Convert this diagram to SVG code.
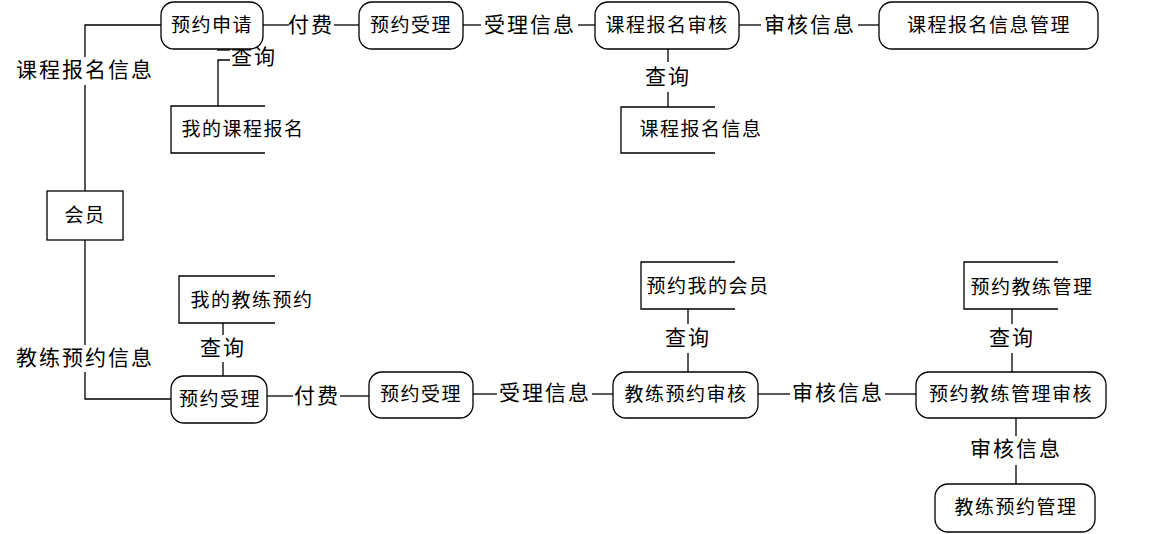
<svg xmlns="http://www.w3.org/2000/svg" width="1157" height="534" viewBox="0 0 1157 534">
<style>
.n{fill:#fff;stroke:#000;stroke-width:1.3}
.o{fill:none;stroke:#000;stroke-width:1.3}
.c{fill:none;stroke:#000;stroke-width:1.3}
text{font-family:"Noto Sans CJK SC","Noto Sans CJK JP",sans-serif;fill:#000;text-anchor:middle;dominant-baseline:central}
.t{font-size:19px;letter-spacing:1.5px}
.l{font-size:21px;letter-spacing:2px}
</style>
<rect width="1157" height="534" fill="#fff"/>
<g id="connectors">
<polyline class="c" points="161,25 85,25 85,57"/>
<polyline class="c" points="85,85 85,191"/>
<polyline class="c" points="85,240 85,345"/>
<polyline class="c" points="85,372 85,399 171,399"/>
<line class="c" x1="263" y1="25" x2="289" y2="25"/>
<line class="c" x1="334" y1="25" x2="359" y2="25"/>
<line class="c" x1="463" y1="25" x2="481" y2="25"/>
<line class="c" x1="578" y1="25" x2="595" y2="25"/>
<line class="c" x1="739" y1="25" x2="761" y2="25"/>
<line class="c" x1="858" y1="25" x2="879" y2="25"/>
<line class="c" x1="217" y1="50" x2="230" y2="50"/>
<polyline class="c" points="218,106 218,60 230,60"/>
<line class="c" x1="668" y1="49" x2="668" y2="62"/>
<line class="c" x1="668" y1="92" x2="668" y2="107"/>
<line class="c" x1="223" y1="323" x2="223" y2="335"/>
<line class="c" x1="223" y1="362" x2="223" y2="376"/>
<line class="c" x1="267" y1="396" x2="293" y2="396"/>
<line class="c" x1="340" y1="396" x2="369" y2="396"/>
<line class="c" x1="473" y1="394" x2="497" y2="394"/>
<line class="c" x1="592" y1="394" x2="613" y2="394"/>
<line class="c" x1="758" y1="394" x2="790" y2="394"/>
<line class="c" x1="885" y1="394" x2="916" y2="394"/>
<line class="c" x1="688" y1="309" x2="688" y2="324"/>
<line class="c" x1="688" y1="353" x2="688" y2="372"/>
<line class="c" x1="1012" y1="309" x2="1012" y2="324"/>
<line class="c" x1="1012" y1="353" x2="1012" y2="372"/>
<line class="c" x1="1016" y1="418" x2="1016" y2="436"/>
<line class="c" x1="1016" y1="465" x2="1016" y2="484"/>
<text class="l" x="311" y="23">付费</text>
<text class="l" x="530" y="23">受理信息</text>
<text class="l" x="810" y="23">审核信息</text>
<text class="l" x="85" y="68">课程报名信息</text>
<text class="l" x="254" y="55">查询</text>
<text class="l" x="668" y="75">查询</text>
<text class="l" x="223" y="346">查询</text>
<text class="l" x="85" y="356">教练预约信息</text>
<text class="l" x="317" y="394">付费</text>
<text class="l" x="545" y="391">受理信息</text>
<text class="l" x="838" y="391">审核信息</text>
<text class="l" x="688" y="336">查询</text>
<text class="l" x="1012" y="336">查询</text>
<text class="l" x="1016" y="447">审核信息</text>
</g>
<g id="n1"><rect class="n" x="161" y="2" width="102" height="47" rx="13"/><text class="t" x="212" y="23">预约申请</text></g>
<g id="n2"><rect class="n" x="359" y="2" width="104" height="47" rx="13"/><text class="t" x="411" y="23">预约受理</text></g>
<g id="n3"><rect class="n" x="595" y="2" width="144" height="47" rx="13"/><text class="t" x="667" y="23">课程报名审核</text></g>
<g id="n4"><rect class="n" x="879" y="2" width="219" height="47" rx="13"/><text class="t" x="989" y="23">课程报名信息管理</text></g>
<g id="n5"><path class="o" d="M265,106 H171 V153 H265"/><text class="t" x="243" y="127">我的课程报名</text></g>
<g id="n6"><path class="o" d="M715,107 H621 V153 H715"/><text class="t" x="701" y="127">课程报名信息</text></g>
<g id="n7"><rect class="n" x="47" y="191" width="76" height="49"/><text class="t" x="85" y="213">会员</text></g>
<g id="n8"><path class="o" d="M275,276 H179 V323 H275"/><text class="t" x="252" y="298">我的教练预约</text></g>
<g id="n9"><rect class="n" x="171" y="376" width="96" height="47" rx="13"/><text class="t" x="220" y="397">预约受理</text></g>
<g id="n10"><rect class="n" x="369" y="372" width="104" height="46" rx="13"/><text class="t" x="421" y="392">预约受理</text></g>
<g id="n11"><rect class="n" x="613" y="372" width="145" height="46" rx="13"/><text class="t" x="686" y="392">教练预约审核</text></g>
<g id="n12"><path class="o" d="M735,262 H641 V309 H735"/><text class="t" x="708" y="284">预约我的会员</text></g>
<g id="n13"><rect class="n" x="916" y="372" width="190" height="46" rx="13"/><text class="t" x="1011" y="392">预约教练管理审核</text></g>
<g id="n14"><path class="o" d="M1058,262 H964 V309 H1058"/><text class="t" x="1032" y="285">预约教练管理</text></g>
<g id="n15"><rect class="n" x="935" y="484" width="160" height="48" rx="13"/><text class="t" x="1016" y="505">教练预约管理</text></g>
</svg>
